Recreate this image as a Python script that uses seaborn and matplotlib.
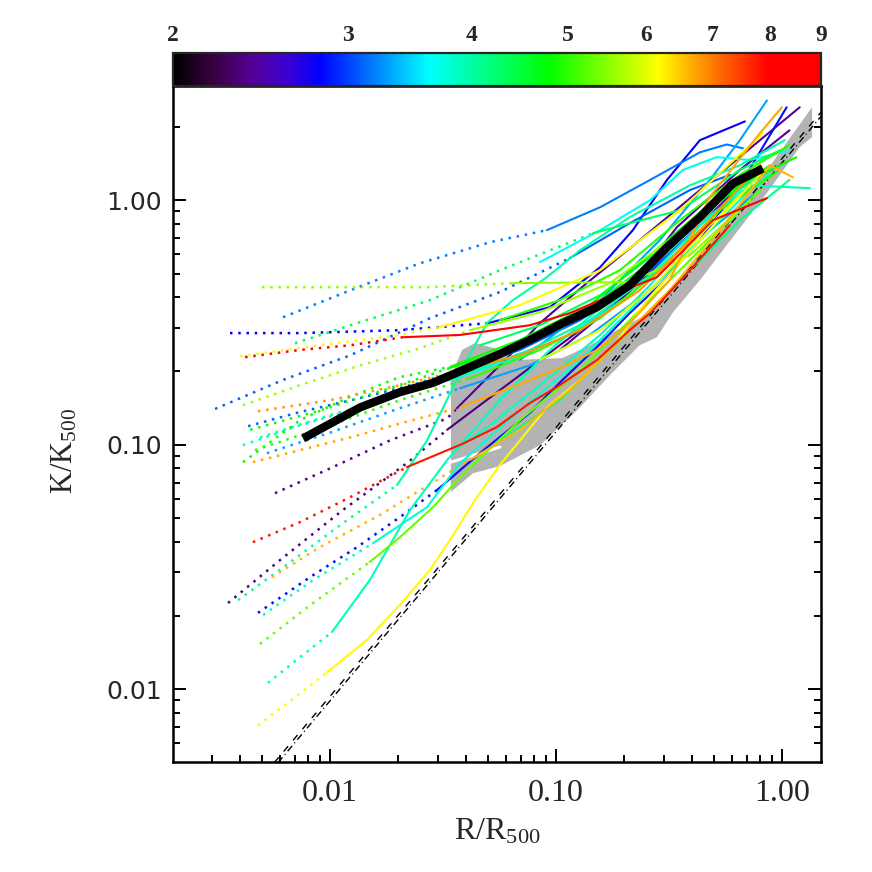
import numpy as np
import pandas as pd
import matplotlib
matplotlib.use("Agg")
import matplotlib.pyplot as plt
import seaborn as sns
from matplotlib.colors import LinearSegmentedColormap, LogNorm
from matplotlib.ticker import FixedLocator, FixedFormatter, LogLocator, NullFormatter

# =============================================================================
# Data (R/R500, K/K500); dotted part is r <= cut
# =============================================================================

p01_r = [0.0062, 0.0123, 0.025, 0.0511, 0.0912, 0.157, 0.261, 0.434, 0.571, 0.672]
p01_k = [0.332, 0.428, 0.552, 0.673, 0.754, 0.936, 1.21, 1.57, 1.69, 1.63]
p02_r = [0.005, 0.0123, 0.0277, 0.0645, 0.212, 0.392, 0.721]
p02_k = [0.441, 0.441, 0.441, 0.458, 0.462, 0.596, 1.00]
p03_r = [0.007, 0.0136, 0.0277, 0.0565, 0.146, 0.212, 0.354, 0.652, 0.98]
p03_k = [0.260, 0.317, 0.390, 0.517, 0.733, 0.805, 0.910, 1.33, 1.60]
p04_r = [0.00361, 0.00737, 0.0204, 0.05, 0.094, 0.157, 0.219, 0.31, 0.434, 0.686]
p04_k = [0.286, 0.286, 0.294, 0.314, 0.365, 0.532, 0.754, 1.21, 1.76, 2.10]
p05_r = [0.00421, 0.00737, 0.0123, 0.021, 0.0376, 0.0767, 0.115, 0.186, 0.28, 0.495, 0.859]
p05_k = [0.228, 0.244, 0.255, 0.275, 0.281, 0.308, 0.345, 0.417, 0.484, 0.828, 1.02]
p06_r = [0.00456, 0.00737, 0.0123, 0.0219, 0.0388, 0.0548, 0.0767, 0.101, 0.152, 0.212, 0.261, 0.392, 0.589]
p06_k = [0.0399, 0.0482, 0.061, 0.0809, 0.101, 0.118, 0.148, 0.172, 0.222, 0.294, 0.345, 0.517, 0.791]
p07_r = [0.004, 0.00903, 0.0204, 0.0307, 0.0693, 0.157, 0.354, 0.824]
p07_k = [0.230, 0.255, 0.281, 0.303, 0.372, 0.517, 0.910, 1.88]
p08_r = [0.0031, 0.0062, 0.0123, 0.0277, 0.0565, 0.115, 0.212, 0.392, 0.589]
p08_k = [0.140, 0.184, 0.232, 0.329, 0.421, 0.579, 0.805, 1.10, 1.27]
p09_r = [0.00412, 0.00737, 0.0136, 0.025, 0.0416, 0.0849, 0.173, 0.319, 0.652]
p09_k = [0.145, 0.175, 0.211, 0.248, 0.294, 0.348, 0.458, 0.686, 1.21]
p10_r = [0.0048, 0.01, 0.0204, 0.035, 0.0693, 0.128, 0.235, 0.434, 0.80]
p10_k = [0.137, 0.152, 0.175, 0.198, 0.232, 0.294, 0.428, 0.754, 1.39]
p11_r = [0.00434, 0.00737, 0.0136, 0.025, 0.0376, 0.0693, 0.128, 0.235, 0.434, 0.80]
p11_k = [0.119, 0.136, 0.155, 0.179, 0.202, 0.244, 0.323, 0.471, 0.791, 1.33]
p12_r = [0.00412, 0.00737, 0.0123, 0.0204, 0.034, 0.0625, 0.115, 0.212, 0.392, 0.721]
p12_k = [0.0995, 0.120, 0.138, 0.163, 0.184, 0.222, 0.281, 0.409, 0.686, 1.21]
p13_r = [0.00412, 0.00737, 0.0123, 0.0204, 0.034, 0.0693, 0.141, 0.261, 0.532, 1.16]
p13_k = [0.0848, 0.126, 0.157, 0.189, 0.208, 0.268, 0.372, 0.596, 1.05, 1.50]
p14_r = [0.00456, 0.00737, 0.0123, 0.0204, 0.0376, 0.0767, 0.107, 0.152, 0.212, 0.319, 0.48, 0.607, 0.80, 1.00]
p14_k = [0.0848, 0.095, 0.107, 0.122, 0.142, 0.184, 0.208, 0.244, 0.314, 0.471, 1.03, 1.36, 1.88, 2.40]
p15_r = [0.00571, 0.0103, 0.0184, 0.033, 0.0365, 0.0645, 0.0849, 0.137, 0.235, 0.434, 0.80, 1.20]
p15_k = [0.0633, 0.0809, 0.104, 0.128, 0.141, 0.239, 0.314, 0.458, 0.686, 1.10, 1.76, 2.40]
p16_r = [0.00354, 0.00601, 0.0114, 0.0219, 0.033, 0.0565, 0.104, 0.192, 0.354, 0.652]
p16_k = [0.0225, 0.0337, 0.054, 0.084, 0.115, 0.167, 0.255, 0.390, 0.655, 1.15]
p17_r = [0.00392, 0.00686, 0.0119, 0.0198, 0.0269, 0.0388, 0.0495, 0.0645, 0.0912, 0.128, 0.212, 0.392, 0.652, 1.03]
p17_k = [0.0231, 0.0337, 0.0491, 0.0683, 0.104, 0.208, 0.314, 0.390, 0.484, 0.625, 0.852, 1.15, 1.39, 1.76]
p18_r = [0.00554, 0.00903, 0.0166, 0.0307, 0.0416, 0.0693, 0.115, 0.192, 0.319, 0.532, 0.885, 1.12]
p18_k = [0.0287, 0.0381, 0.0515, 0.073, 0.0865, 0.115, 0.167, 0.268, 0.428, 0.754, 1.39, 1.24]
p19_r = [0.0048, 0.00816, 0.0132, 0.021, 0.0297, 0.0461, 0.0767, 0.107, 0.152, 0.212, 0.288, 0.434, 0.652, 1.05]
p19_k = [0.0205, 0.0287, 0.0381, 0.0515, 0.0651, 0.0923, 0.135, 0.184, 0.251, 0.345, 0.449, 0.686, 1.15, 2.40]
p20_r = [0.00506, 0.00841, 0.0155, 0.0269, 0.0376, 0.0693, 0.128, 0.235, 0.434, 0.80]
p20_k = [0.0201, 0.0279, 0.0395, 0.0555, 0.084, 0.138, 0.222, 0.390, 0.686, 1.21]
p21_r = [0.0049, 0.00841, 0.015, 0.0204, 0.0286, 0.0376, 0.0693, 0.128, 0.235, 0.434, 0.80]
p21_k = [0.0153, 0.0225, 0.0331, 0.0418, 0.0555, 0.0736, 0.126, 0.202, 0.355, 0.625, 1.10]
p22_r = [0.00532, 0.00737, 0.0102, 0.015, 0.0226, 0.033, 0.0565, 0.094, 0.173, 0.319, 0.589]
p22_k = [0.0106, 0.0135, 0.0171, 0.0279, 0.054, 0.0865, 0.152, 0.244, 0.390, 0.625, 1.10]
p23_r = [0.0048, 0.00714, 0.0097, 0.0146, 0.0204, 0.0277, 0.034, 0.0438, 0.0565, 0.0912, 0.128, 0.179, 0.253, 0.434, 0.721]
p23_k = [0.0071, 0.0094, 0.0117, 0.0159, 0.0221, 0.0307, 0.0407, 0.0593, 0.0825, 0.142, 0.184, 0.251, 0.390, 0.686, 1.15]
p24_r = [0.00443, 0.00903, 0.0184, 0.034, 0.0693, 0.128, 0.235, 0.434, 0.885]
p24_k = [0.115, 0.138, 0.170, 0.206, 0.255, 0.338, 0.517, 0.868, 1.39]
p25_r = [0.0049, 0.01, 0.0204, 0.0376, 0.0767, 0.141, 0.261, 0.48, 0.885]
p25_k = [0.107, 0.132, 0.159, 0.192, 0.244, 0.323, 0.494, 0.868, 1.27]
p26_r = [0.00466, 0.01, 0.0204, 0.0416, 0.0849, 0.157, 0.288, 0.532, 0.98]
p26_k = [0.095, 0.120, 0.152, 0.187, 0.244, 0.329, 0.517, 0.910, 1.33]
p27_r = [0.00526, 0.01, 0.0204, 0.0376, 0.0767, 0.141, 0.261, 0.48, 0.80]
p27_k = [0.0923, 0.112, 0.141, 0.170, 0.211, 0.281, 0.428, 0.754, 1.10]
p28_r = [0.0357, 0.0511, 0.0849, 0.157, 0.261, 0.434, 0.721, 1.33]
p28_k = [0.095, 0.120, 0.175, 0.281, 0.449, 0.791, 1.15, 1.12]
p29_r = [0.0693, 0.157, 0.288, 0.48, 0.652, 0.859]
p29_k = [0.222, 0.390, 0.686, 1.21, 1.76, 2.56]
p30_r = [0.0849, 0.157, 0.261, 0.365, 0.515, 0.721, 1.08]
p30_k = [0.558, 0.754, 1.00, 1.33, 1.50, 1.46, 1.60]
p31_r = [0.0565, 0.104, 0.192, 0.354, 0.652, 1.08]
p31_k = [0.323, 0.390, 0.517, 0.828, 1.27, 1.68]
p32_r = [0.0461, 0.0849, 0.157, 0.288, 0.532, 0.98]
p32_k = [0.255, 0.308, 0.409, 0.625, 1.00, 1.39]
p33_r = [0.0849, 0.157, 0.261, 0.434, 0.80]
p33_k = [0.222, 0.294, 0.428, 0.719, 1.27]
p34_r = [0.104, 0.192, 0.343, 0.652, 1.08]
p34_k = [0.244, 0.390, 0.775, 1.33, 1.93]
p35_r = [0.0565, 0.104, 0.192, 0.354, 0.652, 1.08]
p35_k = [0.104, 0.152, 0.268, 0.471, 0.828, 1.21]

# temperature (keV) of each profile, and radius where the data start (None = all solid)
temps = [3.2, 5.5, 4.3, 2.8, 8.5, 7.8, 6.2, 3.1, 5.6, 6.8, 3.1, 3.8, 4.8, 6.7, 2.4, 2.35, 4.0, 6.6,
         2.85, 3.8, 5.3, 3.9, 6.2, 4.8, 4.0, 5.0, 3.3, 3.9, 3.3, 3.7, 5.0, 4.3, 6.0, 2.4, 4.1]
cuts = [0.0912, 0.0645, 0.146, 0.05, 0.021, 0.0219, 0.0307, 0.115, 0.0416, 0.035, 0.0376, 0.034,
        0.034, 0.0376, 0.0365, 0.033, 0.0198, 0.0416, 0.0297, 0.0155, 0.015, 0.0102, 0.0097,
        0.034, 0.0376, 0.0416, 0.0376, None, None, None, None, None, None, None, None]

radii = [p01_r, p02_r, p03_r, p04_r, p05_r, p06_r, p07_r, p08_r, p09_r, p10_r, p11_r, p12_r,
         p13_r, p14_r, p15_r, p16_r, p17_r, p18_r, p19_r, p20_r, p21_r, p22_r, p23_r, p24_r,
         p25_r, p26_r, p27_r, p28_r, p29_r, p30_r, p31_r, p32_r, p33_r, p34_r, p35_r]
entropies = [p01_k, p02_k, p03_k, p04_k, p05_k, p06_k, p07_k, p08_k, p09_k, p10_k, p11_k, p12_k,
             p13_k, p14_k, p15_k, p16_k, p17_k, p18_k, p19_k, p20_k, p21_k, p22_k, p23_k, p24_k,
             p25_k, p26_k, p27_k, p28_k, p29_k, p30_k, p31_k, p32_k, p33_k, p34_k, p35_k]

# mean profile (thick black)
mean_r = [0.0076, 0.0136, 0.0204, 0.0286, 0.0388, 0.0548, 0.0767, 0.107, 0.152, 0.212, 0.310, 0.434, 0.607, 0.824]
mean_k = [0.106, 0.142, 0.164, 0.179, 0.202, 0.232, 0.268, 0.314, 0.365, 0.449, 0.642, 0.852, 1.17, 1.35]

# grey band outline
band_r = [0.0343, 0.0384, 0.0438, 0.0537, 0.0672, 0.107, 0.137, 0.186, 0.261, 0.434, 0.80, 1.36,
          1.36, 1.20, 0.859, 0.607, 0.434, 0.330, 0.280, 0.235, 0.173, 0.124, 0.085, 0.0565, 0.043, 0.0343]
band_k = [0.189, 0.244, 0.260, 0.248, 0.222, 0.226, 0.251, 0.294, 0.345, 0.596, 1.21, 2.40,
          1.81, 1.65, 1.07, 0.706, 0.471, 0.348, 0.275, 0.255, 0.192, 0.138, 0.0995, 0.0817, 0.0764, 0.064]

# white streak inside the band
white_r = [0.0343, 0.0565]
white_k = [0.0848, 0.0977]

# baseline lines (end points)
base1_r = [0.00567, 1.49]
base1_k = [0.005, 2.29]
base2_r = [0.00589, 1.49]
base2_k = [0.005, 2.20]

cbar_ticks = [2, 3, 4, 5, 6, 7, 8, 9]

# =============================================================================
# Tables for seaborn
# =============================================================================

dot_rows, sol_rows = [], []
for pid, (t, c, rr, kk) in enumerate(zip(temps, cuts, radii, entropies)):
    for r, k in zip(rr, kk):
        if c is not None and r <= c:
            dot_rows.append((pid, t, r, k))
        if c is None or r >= c:
            sol_rows.append((pid, t, r, k))
dot_df = pd.DataFrame(dot_rows, columns=["pid", "T", "r", "k"])
sol_df = pd.DataFrame(sol_rows, columns=["pid", "T", "r", "k"])

# IDL-like rainbow
cmap = LinearSegmentedColormap.from_list("idl_rainbow", [
    (0.00, (0.0, 0.0, 0.0)),
    (0.06, (0.22, 0.0, 0.25)),
    (0.12, (0.33, 0.0, 0.58)),
    (0.18, (0.22, 0.0, 0.85)),
    (0.227, (0.0, 0.0, 1.0)),
    (0.31, (0.0, 0.5, 1.0)),
    (0.395, (0.0, 1.0, 1.0)),
    (0.58, (0.0, 1.0, 0.0)),
    (0.75, (1.0, 1.0, 0.0)),
    (0.83, (1.0, 0.5, 0.0)),
    (0.92, (1.0, 0.0, 0.0)),
    (1.00, (1.0, 0.0, 0.0)),
])
norm = LogNorm(vmin=2, vmax=9)

# =============================================================================
# Figure
# =============================================================================

sns.set_style("white")
plt.rcParams["font.family"] = ["Liberation Serif", "DejaVu Serif"]
plt.rcParams["mathtext.default"] = "regular"

fig = plt.figure(figsize=(8.72, 8.72), dpi=100)
ax = fig.add_axes([0.1984, 0.1261, 0.7431, 0.7752])
cax = fig.add_axes([0.1984, 0.9013, 0.7431, 0.0378])

ax.set_xscale("log")
ax.set_yscale("log")

ax.fill(band_r, band_k, color="#b3b3b3", lw=0, zorder=1)
ax.plot(white_r, white_k, color="white", lw=2.2, zorder=1.5)

ax.plot(base1_r, base1_k, color="black", lw=1.0, ls=(0, (5, 5.5)), zorder=2)
ax.plot(base2_r, base2_k, color="black", lw=1.0, ls=(0, (5, 2.5, 0.8, 2.5)), zorder=2)

sns.lineplot(data=dot_df, x="r", y="k", hue="T", units="pid", estimator=None, sort=False,
             palette=cmap, hue_norm=norm, legend=False, ax=ax,
             lw=1.8, linestyle=(0, (1, 2.3)), dash_capstyle="butt", zorder=3)
sns.lineplot(data=sol_df, x="r", y="k", hue="T", units="pid", estimator=None, sort=False,
             palette=cmap, hue_norm=norm, legend=False, ax=ax, lw=1.5, zorder=3)

ax.plot(mean_r, mean_k, color="black", lw=6, solid_capstyle="butt", zorder=4)

ax.set_xlim(0.00202, 1.49)
ax.set_ylim(0.00503, 2.93)

ax.xaxis.set_major_locator(FixedLocator([0.01, 0.1, 1.0]))
ax.xaxis.set_major_formatter(FixedFormatter(["0.01", "0.10", "1.00"]))
ax.yaxis.set_major_locator(FixedLocator([0.01, 0.1, 1.0]))
ax.yaxis.set_major_formatter(FixedFormatter(["0.01", "0.10", "1.00"]))
for axis in (ax.xaxis, ax.yaxis):
    axis.set_minor_locator(LogLocator(base=10, subs=np.arange(2, 10), numticks=20))
    axis.set_minor_formatter(NullFormatter())

ax.tick_params(which="both", direction="in", bottom=True, left=True, right=True, top=False,
               width=1.4, color="black")
ax.tick_params(which="major", length=9.5)
ax.tick_params(which="minor", length=5)
ax.tick_params(axis="x", which="major", labelsize=23, pad=12)
ax.tick_params(axis="y", which="major", labelsize=18, pad=8, labelfontfamily="DejaVu Sans")
for s in ax.spines.values():
    s.set_linewidth(1.8)
    s.set_color("black")

ax.set_xlabel("R/R$_{500}$", fontsize=23, labelpad=7)
ax.set_ylabel("K/K$_{500}$", fontsize=22)
ax.yaxis.set_label_coords(-0.145, 0.46)

# colour bar on top
sm = plt.cm.ScalarMappable(norm=norm, cmap=cmap)
cb = fig.colorbar(sm, cax=cax, orientation="horizontal")
cb.minorticks_off()
cb.set_ticks(cbar_ticks, labels=[str(t) for t in cbar_ticks])
cax.xaxis.set_ticks_position("both")
cax.tick_params(which="major", direction="in", length=6, width=1.3, top=True, bottom=True,
                labeltop=True, labelbottom=False, labelsize=17, pad=5)
for lab in cax.get_xticklabels():
    lab.set_fontweight("bold")
cb.outline.set_linewidth(1.6)

fig.savefig("out.png", dpi=100)
